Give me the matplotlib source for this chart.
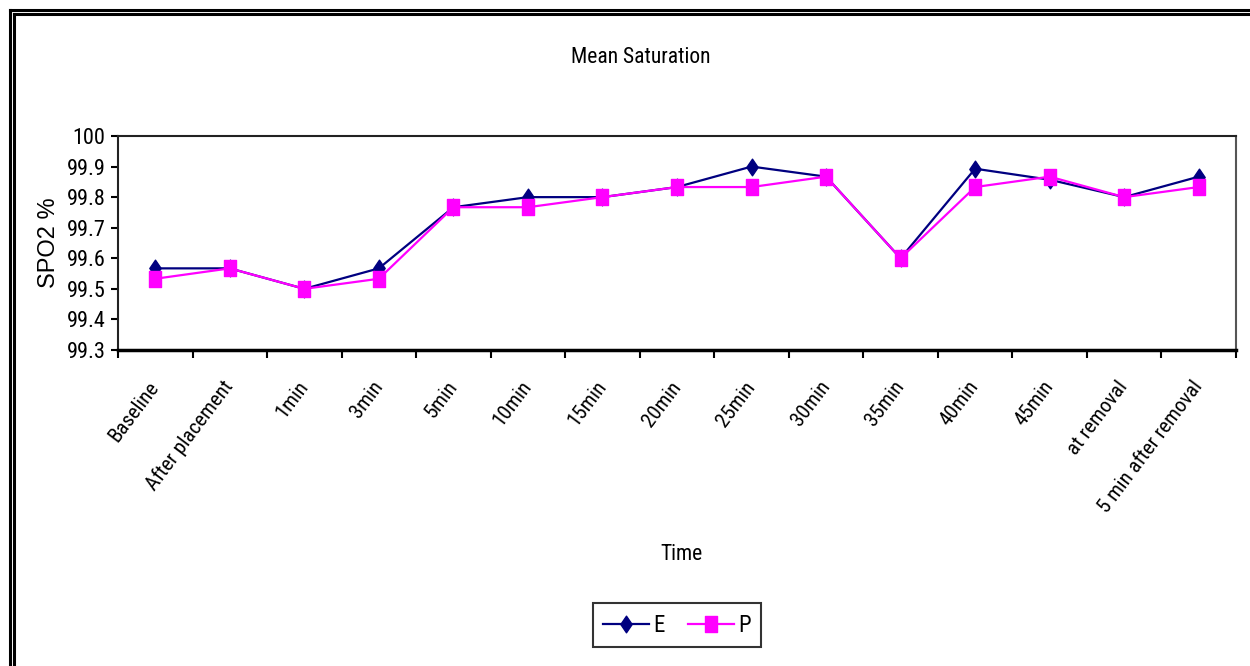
import matplotlib
matplotlib.use("Agg")
import matplotlib.pyplot as plt
from matplotlib.lines import Line2D
from matplotlib.path import Path
from matplotlib import font_manager

# Time points and mean SpO2 readings for the two groups
categories = ["Baseline", "After placement", "1min", "3min", "5min", "10min",
              "15min", "20min", "25min", "30min", "35min", "40min", "45min",
              "at removal", "5 min after removal"]
e_values = [99.567, 99.567, 99.500, 99.567, 99.767, 99.800, 99.800, 99.833,
            99.900, 99.867, 99.600, 99.893, 99.857, 99.800, 99.867]
p_values = [99.533, 99.567, 99.500, 99.533, 99.767, 99.767, 99.800, 99.833,
            99.833, 99.867, 99.600, 99.833, 99.867, 99.800, 99.833]
y_ticks = [99.3, 99.4, 99.5, 99.6, 99.7, 99.8, 99.9, 100.0]
y_tick_labels = ["99.3", "99.4", "99.5", "99.6", "99.7", "99.8", "99.9", "100"]

# prefer a narrow sans face when one is installed
entries = font_manager.fontManager.ttflist
names = {f.name for f in entries}
narrow = None
for cand in ["Liberation Sans Narrow", "Arial Narrow", "Roboto Condensed",
             "Open Sans Condensed", "DejaVu Sans Condensed"]:
    if cand in names:
        narrow = cand
        break
stretch = "normal"
if narrow is None:
    for f in entries:
        if "Condensed" in f.fname:
            narrow = f.name
            stretch = "condensed"
            break
if narrow is None:
    narrow = "Liberation Sans"
    scale = 0.86
else:
    scale = 1.0

plt.rcParams["font.family"] = [narrow, "DejaVu Sans"]
plt.rcParams["font.stretch"] = stretch

fig = plt.figure(figsize=(12.5, 6.66), dpi=100)
ax = fig.add_axes([0.0944, 0.4745, 0.8944, 0.3213])

# upright rectangle and slim diamond markers
rect = Path([(-0.36, -0.5), (0.36, -0.5), (0.36, 0.5), (-0.36, 0.5), (-0.36, -0.5)],
            [Path.MOVETO, Path.LINETO, Path.LINETO, Path.LINETO, Path.CLOSEPOLY])
diam = Path([(0, -0.5), (0.34, 0), (0, 0.5), (-0.34, 0), (0, -0.5)],
            [Path.MOVETO, Path.LINETO, Path.LINETO, Path.LINETO, Path.CLOSEPOLY])

x = list(range(len(categories)))
ax.plot(x, e_values, color="#000080", lw=1.6, marker=diam, markersize=12,
        markerfacecolor="#000080", markeredgecolor="#000080", label="E", zorder=3)
ax.plot(x, p_values, color="#FF00FF", lw=1.6, marker=rect, markersize=11.5,
        markerfacecolor="#FF00FF", markeredgecolor="#FF00FF", label="P", zorder=4)

ax.set_xlim(-0.5, len(categories) - 0.5)
ax.set_ylim(99.3, 100.0)
ax.set_yticks(y_ticks)
ax.set_yticklabels(y_tick_labels, fontsize=16 * scale)
ax.tick_params(axis="y", direction="out", length=5, width=1.5, pad=4)

ax.set_xticks(x)
ax.set_xticklabels(categories, rotation=53, ha="right", va="center",
                   rotation_mode="anchor", fontsize=15 * scale)
ax.tick_params(axis="x", which="major", length=0, pad=24)
ax.set_xticks([i - 0.5 for i in range(len(categories) + 1)], minor=True)
ax.tick_params(axis="x", which="minor", direction="out", length=6, width=1.5)

for side in ["top", "left"]:
    ax.spines[side].set_linewidth(1.5)
    ax.spines[side].set_color("#222222")
ax.spines["bottom"].set_linewidth(2.5)
ax.spines["right"].set_linewidth(1.5)
ax.spines["right"].set_color("#555555")

ax.set_ylabel("SPO2 %", fontsize=17, family=["Liberation Sans", "DejaVu Sans"],
              labelpad=5)
fig.text(0.5128, 0.913, "Mean Saturation", ha="center", va="center", fontsize=15.5 * scale)
fig.text(0.545, 0.167, "Time", ha="center", va="center", fontsize=15.5 * scale)

leg = fig.legend(loc="center", bbox_to_anchor=(0.5416, 0.0615), ncol=2, frameon=True,
                 fancybox=False, edgecolor="black", fontsize=16.5 * scale, handlelength=2.0,
                 columnspacing=1.0, handletextpad=0.2, borderpad=0.45)
leg.get_frame().set_linewidth(1.5)

# double border around the chart area
W, H = 1250.0, 666.0
for off in (10.0, 14.0):
    fig.add_artist(Line2D([off / W, 1.0], [1 - off / H, 1 - off / H],
                          transform=fig.transFigure, color="black", lw=2.2))
    fig.add_artist(Line2D([off / W, off / W], [0.0, 1 - off / H],
                          transform=fig.transFigure, color="black", lw=2.2))

fig.savefig("out.png", dpi=100)
